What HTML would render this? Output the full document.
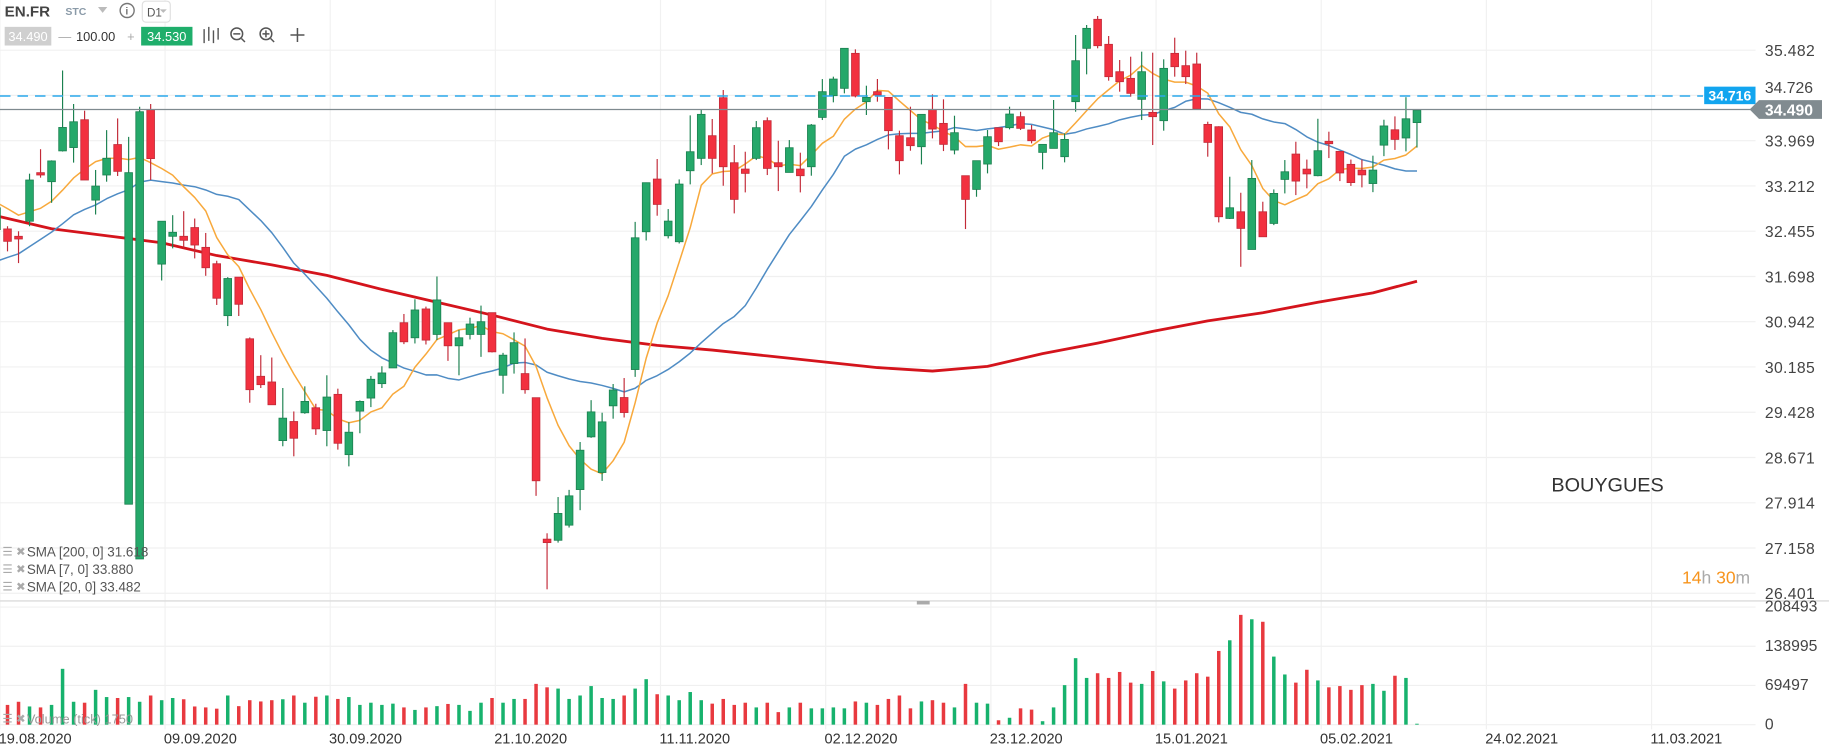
<!DOCTYPE html>
<html><head><meta charset="utf-8"><style>
html,body{margin:0;padding:0;background:#fff;overflow:hidden}
svg{display:block;font-family:"Liberation Sans",Arial,sans-serif}
</style></head><body>
<svg id="c" width="1829" height="755" viewBox="0 0 1568 647" preserveAspectRatio="none">
<g id="grid"></g>
<g id="toolbar">
  <text x="4" y="14" font-size="13" font-weight="bold" fill="#444">EN.FR</text>
  <text x="56" y="13" font-size="9" font-weight="bold" fill="#8a9aa8">STC</text>
  <path d="M84 6 L92 6 L88 11 Z" fill="#bbb"/>
  <circle cx="109" cy="9" r="6" fill="none" stroke="#777" stroke-width="1.2"/>
  <text x="107.5" y="12.5" font-size="9" fill="#777" font-weight="bold">i</text>
  <rect x="122" y="1" width="24" height="18" rx="3" fill="#fff" stroke="#e0e0e0"/>
  <text x="126" y="14" font-size="10" fill="#555">D1</text>
  <path d="M137 8 L143 8 L140 11 Z" fill="#bbb"/>
  <rect x="4" y="23" width="40" height="16" fill="#cfcfcf"/>
  <text x="24" y="35" font-size="11" fill="#fff" text-anchor="middle">34.490</text>
  <text x="50" y="35" font-size="11" fill="#aaa">—</text>
  <text x="82" y="35" font-size="11" fill="#333" text-anchor="middle">100.00</text>
  <text x="109" y="35" font-size="11" fill="#aaa">+</text>
  <rect x="121" y="23" width="44" height="16" fill="#1fae6b"/>
  <text x="143" y="35" font-size="11" fill="#fff" text-anchor="middle">34.530</text>
  <g stroke="#555" stroke-width="1.2" fill="none"><path d="M175 25 V37 M179 23 V35 M183 26 V37 M187 24 V34"/></g>
  <g stroke="#555" stroke-width="1.3" fill="none"><circle cx="203" cy="29" r="5"/><path d="M200 29 H206 M207 33 L210 36"/></g>
  <g stroke="#555" stroke-width="1.3" fill="none"><circle cx="228" cy="29" r="5"/><path d="M225 29 H231 M228 26 V32 M232 33 L235 36"/></g>
  <g stroke="#555" stroke-width="1.3" fill="none"><path d="M249 30 H261 M255 24 V36"/></g>
</g>
<g id="volume"></g>
<g id="ma"></g>
<g id="candles"></g>
<g id="axes"></g>
<g font-size="11.5" fill="#555">
  <text x="2" y="476" fill="#aaa" font-size="10">☰ ✖</text>
  <text x="23" y="477">SMA [200, 0] 31.618</text>
  <text x="2" y="491" fill="#aaa" font-size="10">☰ ✖</text>
  <text x="23" y="492">SMA [7, 0] 33.880</text>
  <text x="2" y="506" fill="#aaa" font-size="10">☰ ✖</text>
  <text x="23" y="507">SMA [20, 0] 33.482</text>
  <text x="2" y="619" fill="#aaa" font-size="10">☰ ✖</text>
  <text x="23" y="620" fill="#999" font-size="11">Volume (tick) 1750</text>
</g>
<text x="1330" y="421" font-size="17" fill="#333">BOUYGUES</text>
<text x="1442" y="500" font-size="15"><tspan fill="#f7941d">14</tspan><tspan fill="#aaa">h </tspan><tspan fill="#f7941d">30</tspan><tspan fill="#aaa">m</tspan></text>
</svg>
<script>
const opens=[32.482,32.493,32.370,32.622,33.434,33.283,33.798,33.854,34.319,32.975,33.395,33.904,27.890,26.975,34.487,31.905,32.370,32.370,32.516,32.185,31.911,31.043,31.687,30.656,30.029,29.934,28.954,29.273,29.419,29.503,29.122,29.727,28.719,29.447,29.665,29.906,30.169,30.925,30.673,31.155,30.729,30.925,30.539,30.729,30.729,31.093,30.046,30.242,30.074,29.671,27.306,27.287,27.540,28.135,29.016,28.420,29.535,29.674,30.142,32.446,33.327,32.379,32.279,33.466,33.673,34.052,34.687,33.600,33.494,33.673,34.303,33.600,33.438,33.494,33.533,34.358,34.721,34.844,35.429,34.621,34.788,34.693,34.052,34.018,33.868,34.492,34.258,33.812,33.383,33.154,33.578,34.186,34.186,34.370,34.147,33.773,33.840,33.701,34.621,35.513,35.998,35.580,35.122,35.011,34.660,34.442,34.303,35.429,35.223,35.251,34.241,34.202,32.669,32.780,32.150,32.780,32.585,33.321,33.745,33.493,33.383,33.958,33.790,33.573,33.477,33.252,33.894,34.151,34.014,34.271];
const highs=[32.874,32.538,32.454,33.417,33.826,33.640,35.142,34.582,34.470,33.479,34.145,34.341,34.033,34.537,34.582,32.622,32.723,32.790,32.667,32.426,31.961,31.687,31.687,30.679,30.382,30.343,29.833,29.441,29.861,29.570,30.046,29.822,29.262,29.626,30.035,30.197,30.802,31.071,31.317,31.194,31.698,30.925,30.802,31.009,31.211,31.093,30.421,30.763,30.662,29.671,27.404,28.010,28.130,28.930,29.630,29.420,29.900,30.000,32.610,33.270,33.662,32.825,33.321,34.392,34.498,34.331,34.816,33.896,33.784,34.297,34.358,33.968,33.979,33.768,34.247,34.999,35.039,35.513,35.496,34.888,35.000,34.693,34.136,34.537,34.410,34.743,34.660,34.386,33.383,33.634,34.147,34.190,34.537,34.453,34.230,33.910,34.649,34.091,35.736,35.903,36.054,35.719,35.318,35.373,35.457,35.440,35.329,35.691,35.474,35.440,34.286,34.210,33.366,33.098,33.645,32.948,33.154,33.645,33.951,33.653,34.335,34.119,33.790,33.653,33.653,33.718,34.319,34.375,34.696,34.490];
const lows=[32.426,32.118,31.922,32.538,33.350,32.930,33.787,33.602,33.311,32.734,33.283,33.378,27.890,26.975,33.311,31.631,32.168,32.168,32.000,31.709,31.222,30.869,31.037,29.587,29.833,29.553,28.859,28.691,29.402,29.049,28.859,28.803,28.523,29.077,29.514,29.833,30.169,30.567,30.578,30.561,30.634,30.287,30.046,30.645,30.354,30.427,29.738,30.074,29.738,28.030,26.467,27.248,27.500,27.790,29.000,28.280,29.320,29.340,30.020,32.300,32.714,32.334,32.250,33.238,33.561,33.422,33.215,32.753,33.104,33.645,33.394,33.126,33.438,33.104,33.383,34.314,34.610,34.760,34.693,34.398,34.621,33.823,33.405,33.801,33.572,34.007,33.795,33.740,32.491,33.031,33.422,33.879,34.158,34.147,33.924,33.489,33.840,33.606,34.453,35.078,35.513,34.972,34.788,34.704,34.314,33.896,34.136,35.039,34.916,34.498,33.701,32.602,32.660,31.860,32.150,32.360,32.557,33.087,33.059,33.172,33.373,33.678,33.293,33.212,33.188,33.108,33.710,33.814,33.790,33.854];
const closes=[32.846,32.286,32.325,33.311,33.395,33.630,34.190,34.285,33.311,33.210,33.675,33.456,33.434,34.453,33.669,32.622,32.437,32.303,32.224,31.844,31.334,31.664,31.233,29.805,29.889,29.553,29.329,28.993,29.609,29.150,29.682,28.909,29.094,29.609,29.979,30.085,30.758,30.606,31.138,30.634,31.306,30.539,30.673,30.903,30.942,30.438,30.382,30.591,29.805,28.282,27.248,27.736,28.030,28.793,29.434,29.267,29.800,29.423,32.345,33.266,32.903,32.624,33.243,33.784,34.409,33.673,33.533,32.987,33.422,34.186,33.505,33.533,33.851,33.383,34.230,34.788,34.999,35.513,34.715,34.693,34.732,34.136,33.634,33.885,34.409,34.163,33.907,34.102,32.987,33.634,34.035,33.951,34.414,34.175,33.968,33.907,34.102,33.990,35.306,35.847,35.557,35.039,34.955,34.760,35.122,34.370,35.178,35.206,35.039,34.498,33.940,32.697,32.847,32.502,33.338,32.362,33.087,33.449,33.293,33.413,33.801,33.918,33.429,33.268,33.397,33.477,34.215,33.990,34.335,34.480];
const volumes=[40000,35000,40588,32248,30580,35028,98968,40588,38920,61716,48928,47260,48928,40588,51708,43368,47260,45036,32248,30580,28356,51708,32804,43368,41144,43368,45036,51708,38920,49484,51708,45592,48928,35028,38920,35028,37252,30580,26132,30580,32804,36696,35028,24464,38920,47260,38920,45592,45592,72280,66164,63940,45592,51708,68388,47260,45592,51708,63940,80620,53932,51708,43368,57824,43368,37252,45592,35028,38920,30580,38920,22240,30580,38920,28912,28912,30580,28912,41144,38920,35028,45592,51708,28912,41144,43368,38920,30580,72280,38920,37252,7784,12232,28912,26688,6116,30580,70056,117872,82844,91184,82844,93408,74504,72280,95076,76728,63940,78396,91184,85068,130660,149564,194600,186816,182368,120652,88960,74504,97300,78396,66164,68388,61716,70056,72280,60048,86736,82844,1668];
// closes before the first visible candle (feed the SMA 7/20 windows)
const priorCloses=[31.0,31.1,30.9,31.0,31.2,31.4,31.3,31.5,31.7,31.6,31.8,32.1,31.9,33.0,33.1,32.9,33.0,32.8,32.9];
// SMA 200 read every 5 candles (last point = candle 129)
const sma200=[32.711,32.497,32.380,32.263,32.048,31.892,31.716,31.482,31.267,31.053,30.818,30.662,30.545,30.467,30.370,30.272,30.174,30.116,30.194,30.409,30.584,30.779,30.955,31.092,31.267,31.423,31.618];
const sma200Step=5;
const priceTicks=["35.482","34.726","33.969","33.212","32.455","31.698","30.942","30.185","29.428","28.671","27.914","27.158","26.401"];
const volumeTicks=[208493,138995,69497,0];
const dateLabels=["19.08.2020","09.09.2020","30.09.2020","21.10.2020","11.11.2020","02.12.2020","23.12.2020","15.01.2021","05.02.2021","24.02.2021","11.03.2021"];
const dateIndex=[2,17,32,47,62,77,92,107,122,137,152];
const lastPrice=34.490, askLine=34.716;

const NS="http://www.w3.org/2000/svg";
const yP=p=>43+(35.482-p)*51.25;
const xI=i=>-3+9.44*i;
const vY=v=>621-v/69497*33.6;
function mk(tag,attrs,parent){const e=document.createElementNS(NS,tag);for(const k in attrs)e.setAttribute(k,attrs[k]);parent.appendChild(e);return e;}
const G=id=>document.getElementById(id);

// grid
const grid=G('grid');
priceTicks.forEach(t=>{const l=mk('line',{x1:0,x2:1505,y1:yP(+t),y2:yP(+t),stroke:'#f0f0f0','stroke-width':1},grid);

});
volumeTicks.forEach(v=>{const l=mk('line',{x1:0,x2:1505,y1:vY(v),y2:vY(v),stroke:'#f0f0f0'},grid);

});
dateIndex.forEach(d=>{const x=xI(d)-16;const l=mk('line',{x1:x,x2:x,y1:0,y2:625,stroke:'#f1f1f1'},grid);

});
mk('line',{x1:0,x2:1568,y1:515,y2:515,stroke:'#dcdcdc','stroke-width':1.2},grid);
mk('rect',{x:786,y:515,width:11,height:3,fill:'#aaa'},grid);

// volume
const vol=G('volume');
volumes.forEach((v,i)=>{const up=closes[i]>=opens[i];const y=vY(v);
const r=mk('rect',{x:xI(i)-1.5,y:y,width:3,height:Math.max(0.5,621-y),fill:up?'#17b26d':'#e8393f'},vol);

});

// moving averages
const all=priorCloses.concat(closes);const P=priorCloses.length;
function sma(n){const out=[];for(let i=0;i<closes.length;i++){const j=i+P;if(j-n+1<0){out.push(null);continue;}let s=0;for(let k=j-n+1;k<=j;k++)s+=all[k];out.push(s/n);}return out;}
const ma=G('ma');
function line(vals,color,w,name){let d='';vals.forEach((v,i)=>{if(v==null)return;d+=(d?'L':'M')+xI(i).toFixed(1)+' '+yP(v).toFixed(1);});
const p=mk('path',{d:d,fill:'none',stroke:color,'stroke-width':w,'stroke-linejoin':'round'},ma);

}
{let d='';sma200.forEach((v,k)=>{const i=Math.min(k*sma200Step,closes.length-1);d+=(d?'L':'M')+xI(i).toFixed(1)+' '+yP(v).toFixed(1);});
const p=mk('path',{d:d,fill:'none',stroke:'#d4141c','stroke-width':2.4,'stroke-linejoin':'round'},ma);

}
line(sma(20),'#4f8cc4',1.3,'sma20-line');
line(sma(7),'#f8a93c',1.3,'sma7-line');

// candles
const cg=G('candles');
opens.forEach((o,i)=>{const c=closes[i],up=c>=o,x=xI(i);
const col=up?'#25a86a':'#f2303f',sc=up?'#1b8150':'#c22a38';
const g=mk('g',{},cg);


mk('line',{x1:x,x2:x,y1:yP(highs[i]),y2:yP(lows[i]),stroke:sc,'stroke-width':1},g);
const t=yP(Math.max(o,c)),b=yP(Math.min(o,c));
mk('rect',{x:x-3.3,y:t,width:6.6,height:Math.max(1.5,b-t),fill:col,stroke:sc,'stroke-width':0.7},g);});

// axes / labels
const ax=G('axes');
mk('line',{x1:0,x2:1460,y1:yP(askLine),y2:yP(askLine),stroke:'#2aa8ec','stroke-width':1.2,'stroke-dasharray':'9 6'},ax);
mk('line',{x1:0,x2:1505,y1:yP(lastPrice),y2:yP(lastPrice),stroke:'#7f8a8f','stroke-width':1},ax);
priceTicks.forEach(t=>{if(t==="34.726")return;const e=mk('text',{x:1513,y:yP(+t)+5,'font-size':13.5,fill:'#444','letter-spacing':'0.3'},ax);e.textContent=t;

});
{const e=mk('text',{x:1513,y:yP(34.726)-2,'font-size':13.5,fill:'#444'},ax);e.textContent="34.726";

}
volumeTicks.forEach(v=>{const e=mk('text',{x:1513,y:vY(v)+4,'font-size':13.5,fill:'#444'},ax);e.textContent=String(v);

});
{const r=mk('rect',{x:1461,y:yP(askLine)-8,width:44,height:15,fill:'#12a5ef'},ax);


const t=mk('text',{x:1483,y:yP(askLine)+4,'font-size':12,fill:'#fff','text-anchor':'middle','font-weight':'bold'},ax);t.textContent=askLine.toFixed(3);}
{const y=yP(lastPrice);const p=mk('path',{d:`M1500 ${y} L1508 ${y-8} L1562 ${y-8} L1562 ${y+8} L1508 ${y+8} Z`,fill:'#818b90'},ax);


const t=mk('text',{x:1513,y:y+5,'font-size':13.5,fill:'#fff','font-weight':'bold'},ax);t.textContent=lastPrice.toFixed(3);}
dateLabels.forEach((d,k)=>{const e=mk('text',{x:xI(dateIndex[k])-17,y:637,'font-size':12.5,fill:'#333'},ax);e.textContent=d;

});
</script>
</body></html>
